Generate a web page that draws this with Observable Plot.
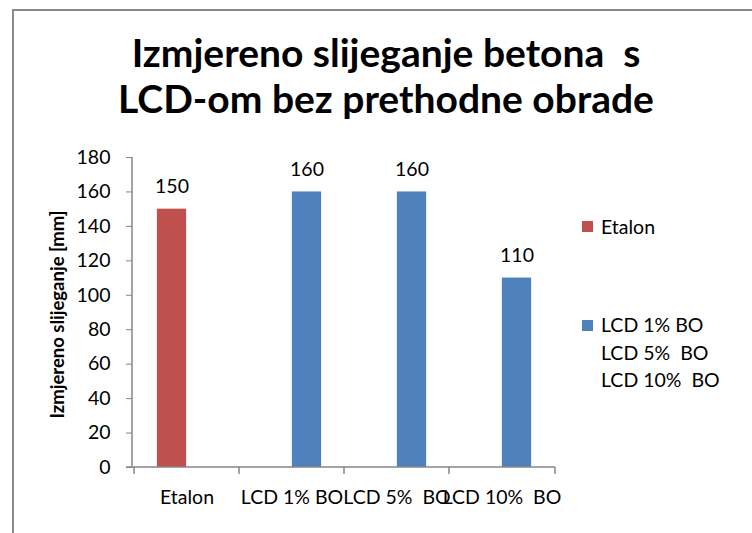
<!DOCTYPE html>
<html><head><meta charset="utf-8">
<script src="https://cdn.jsdelivr.net/npm/d3@7"></script>
<script src="https://cdn.jsdelivr.net/npm/@observablehq/plot@0.6"></script>
<style>
body{margin:0;background:#fff;}
#wrap{position:relative;width:752px;height:533px;overflow:hidden;font-family:Lato,sans-serif;background:#fff;}
#frame{position:absolute;left:12px;top:9px;width:800px;height:600px;border-top:2px solid #8a8a8a;border-left:2px solid #8a8a8a;}
#title{position:absolute;left:13px;width:746px;top:29px;text-align:center;font-weight:bold;font-size:39px;line-height:46px;color:#000;white-space:pre;}
#chart{position:absolute;left:0;top:0;}
#chart svg text{white-space:pre;}
.leg{position:absolute;left:601px;font-size:19.5px;color:#000;white-space:pre;line-height:27.5px;}
.sw{position:absolute;left:582px;width:11px;height:11px;}
</style></head>
<body><div id="wrap"><div id="frame"></div><div id="chart"></div><div id="title"></div><div id="legend"></div></div>
<script>
const titleLines = ["Izmjereno slijeganje betona  s", "LCD-om bez prethodne obrade"];
const yLabel = "Izmjereno slijeganje [mm]";
const categories = ["Etalon", "LCD 1% BO", "LCD 5%  BO", "LCD 10%  BO"];
const etalonValues = [150, null, null, null];
const lcdValues = [null, 160, 160, 110];
const seriesNames = ["Etalon", "LCD 1% BO"];
const legendExtra = ["LCD 5%  BO", "LCD 10%  BO"];
const yTicks = [0, 20, 40, 60, 80, 100, 120, 140, 160, 180];
const colors = ["#C0504D", "#4F81BD"];

const etalon = categories.map((c, i) => ({category: c, value: etalonValues[i]})).filter(d => d.value != null);
const lcd = categories.map((c, i) => ({category: c, value: lcdValues[i]})).filter(d => d.value != null);

const axisColor = "#868686";
const W = 752, H = 533;
const mL = 132, mR = 197, mT = 157, mB = 66;
const band = (W - mL - mR) / categories.length;
const barW = 30;

const axisLines = (index, scales, values, dim) => {
  const g = d3.create("svg:g").attr("stroke", axisColor).attr("stroke-width", 1.5);
  const y0 = dim.height - dim.marginBottom;
  const xs = categories.map(c => scales.x(c));
  xs.push(dim.width - dim.marginRight);
  for (const x of xs) g.append("line").attr("x1", x).attr("x2", x).attr("y1", y0).attr("y2", y0 + 7);
  g.append("line").attr("x1", dim.marginLeft).attr("x2", dim.marginLeft).attr("y1", dim.marginTop).attr("y2", y0);
  g.append("line").attr("x1", dim.marginLeft - 6).attr("x2", dim.width - dim.marginRight).attr("y1", y0).attr("y2", y0);
  return g.node();
};

const chart = Plot.plot({
  width: W, height: H,
  marginLeft: mL, marginRight: mR, marginTop: mT, marginBottom: mB,
  style: {fontFamily: "Lato, sans-serif", fontSize: "19.5px", color: "#000", background: "transparent"},
  x: {domain: categories, padding: 0, tickSize: 0, tickPadding: 23, label: null},
  y: {domain: [0, 180], ticks: yTicks, tickSize: 6, tickPadding: 16, label: null, tickFormat: d => String(d)},
  marks: [
    Plot.barY(etalon, {x: "category", y: "value", fill: colors[0], insetLeft: band / 2 - barW, insetRight: band / 2}),
    Plot.barY(lcd, {x: "category", y: "value", fill: colors[1], insetLeft: band / 2, insetRight: band / 2 - barW}),
    Plot.text(etalon, {x: "category", y: "value", text: d => String(d.value), dx: -barW / 2, dy: -22, fill: "#000", fontSize: 19.5}),
    Plot.text(lcd, {x: "category", y: "value", text: d => String(d.value), dx: barW / 2, dy: -22, fill: "#000", fontSize: 19.5}),
    Plot.text([yLabel], {frameAnchor: "left", textAnchor: "middle", text: d => d, rotate: -90, dx: -74, dy: 2, fontWeight: "bold", fontSize: 18.5, fill: "#000"}),
    axisLines
  ]
});
document.getElementById("chart").appendChild(chart);
chart.querySelectorAll('[aria-label="y-axis tick"], [aria-label="y-axis"] path').forEach(e => e.setAttribute("stroke", axisColor));

document.getElementById("title").textContent = titleLines.join("\n");

const legend = document.getElementById("legend");
const items = [
  {top: 221, color: colors[0], text: seriesNames[0], ty: 213},
  {top: 320, color: colors[1], text: [seriesNames[1], ...legendExtra].join("\n"), ty: 311}
];
for (const it of items) {
  const s = document.createElement("div"); s.className = "sw"; s.style.top = it.top + "px"; s.style.background = it.color; legend.appendChild(s);
  const t = document.createElement("div"); t.className = "leg"; t.style.top = it.ty + "px"; t.textContent = it.text; legend.appendChild(t);
}
</script></body></html>
